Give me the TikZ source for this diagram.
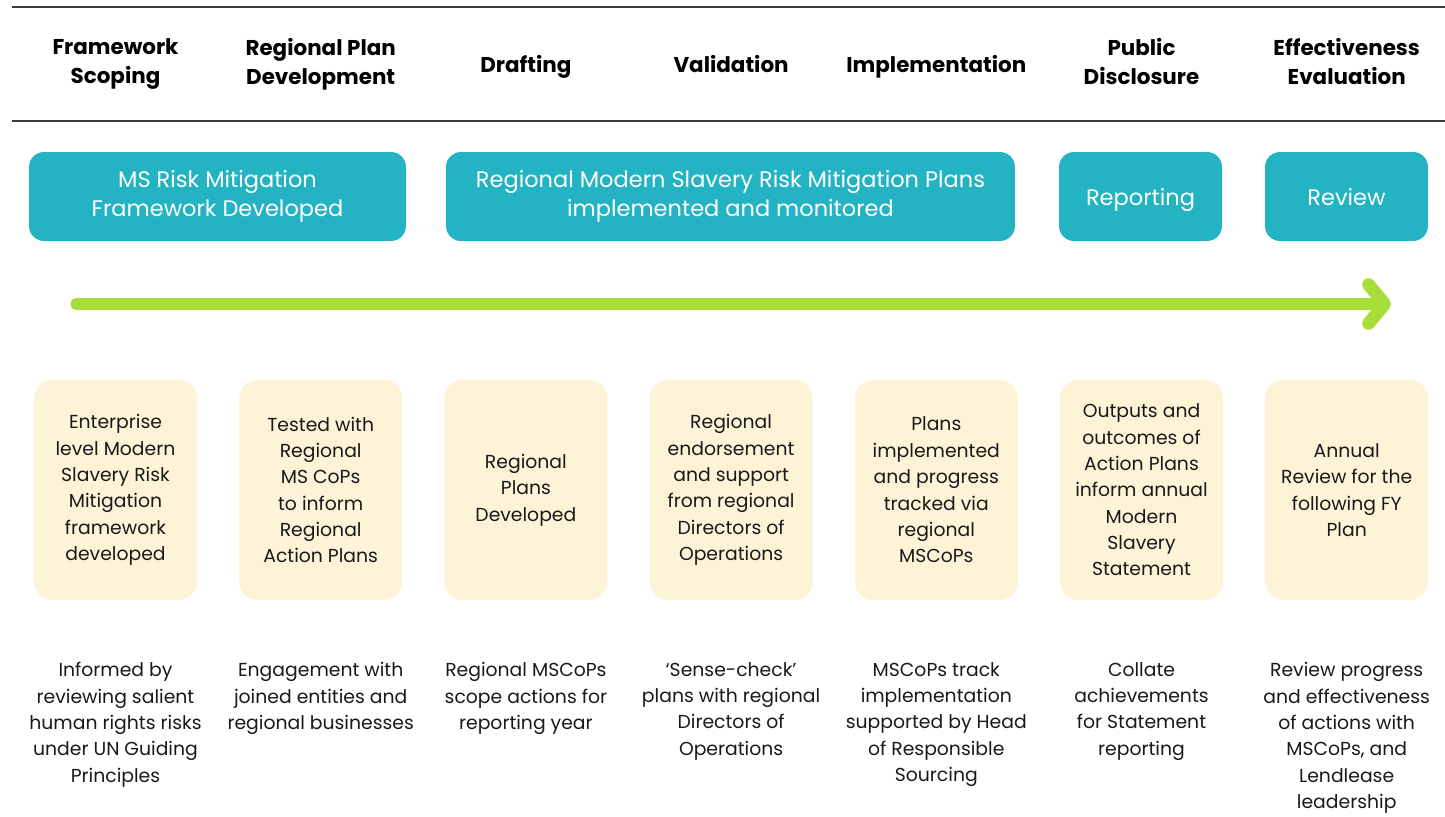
\documentclass[tikz,border=0pt]{standalone}
\usepackage{fontspec}
\setmainfont{Poppins}
\usepackage{tikz}
\usetikzlibrary{arrows.meta}
\definecolor{phaseteal}{HTML}{23B3C3}
\definecolor{stepcream}{HTML}{FDF4D8}
\definecolor{arrowgreen}{HTML}{A8DE3A}
\definecolor{rulegray}{HTML}{3A3A3A}
\newcommand\lowstrut{\rule[-0.2\baselineskip]{0pt}{\baselineskip}}
\tikzset{
  header/.style={
    font = \bfseries\fontsize{12.2}{16.6}\selectfont,
    align = center,
    text = black,
    execute at begin node = \lowstrut,
    execute at end node = \lowstrut
  },
  phase/.style={
    fill = phaseteal,
    rounded corners = 0.3cm,
    minimum height = 1.78cm,
    inner sep = 0pt,
    align = center,
    text = white,
    font = \fontsize{12.8}{16.6}\selectfont,
    execute at begin node = \lowstrut,
    execute at end node = \lowstrut
  },
  stepbox/.style={
    fill = stepcream,
    rounded corners = 0.36cm,
    minimum width = 3.26cm,
    minimum height = 4.4cm,
    inner sep = 0pt,
    align = center,
    text = black!90,
    font = \fontsize{10.7}{15}\selectfont
  },
  note/.style={
    anchor = north,
    inner sep = 0pt,
    align = center,
    text = black!90,
    font = \fontsize{10.7}{15}\selectfont
  },
  progress/.style={
    draw = arrowgreen,
    line width = 0.26cm,
    line cap = round,
    -{Straight Barb[length=9pt, width=22pt, round]}
  }
}
\begin{document}
\begin{tikzpicture}[x=0.02cm, y=0.02cm]
\newcommand\XCol{115.5}
\newcommand\XStep{205.2}
\newcommand\YHead{752}
\newcommand\YPhase{619.5}
\newcommand\YBox{326}
\newcommand\YNote{154}
\useasboundingbox (0,0) rectangle (1445,816);
% header rules
\coordinate (Rtl) at (12,809);
\coordinate (Rtr) at (1445,809);
\coordinate (Rbl) at (12,695);
\coordinate (Rbr) at (1445,695);
\path[draw=rulegray, line width=0.8pt] (Rtl) edge (Rtr)
                                      (Rbl) edge (Rbr);
% stage headers
\node[header] (H1) at (\XCol,\YHead) {Framework\\Scoping};
\node[header] (H2) at (\XCol+\XStep,\YHead) {Regional Plan\\Development};
\node[header] (H3) at (\XCol+\XStep*2,\YHead) {Drafting};
\node[header] (H4) at (\XCol+\XStep*3,\YHead) {Validation};
\node[header] (H5) at (\XCol+\XStep*4,\YHead) {Implementation};
\node[header] (H6) at (\XCol+\XStep*5,\YHead) {Public\\Disclosure};
\node[header] (H7) at (\XCol+\XStep*6,\YHead) {Effectiveness\\Evaluation};
% phases
\node[phase, minimum width=7.54cm] (T1) at (217.5,\YPhase) {MS Risk Mitigation\\Framework Developed};
\node[phase, minimum width=11.38cm] (T2) at (730.5,\YPhase) {Regional Modern Slavery Risk Mitigation Plans\\implemented and monitored};
\node[phase, minimum width=3.26cm] (T3) at (1140.5,\YPhase) {Reporting};
\node[phase, minimum width=3.26cm] (T4) at (1346.5,\YPhase) {Review};
% timeline
\coordinate (Astart) at (77,512);
\coordinate (Aend) at (1391,512);
\path (Astart) edge[progress] (Aend);
% step boxes
\node[stepbox] (B1) at (\XCol,\YBox) {Enterprise\\level Modern\\Slavery Risk\\Mitigation\\framework\\developed};
\node[stepbox] (B2) at (\XCol+\XStep,\YBox) {Tested with\\Regional\\MS CoPs\\to inform\\Regional\\Action Plans};
\node[stepbox] (B3) at (\XCol+\XStep*2,\YBox) {Regional\\Plans\\Developed};
\node[stepbox] (B4) at (\XCol+\XStep*3,\YBox) {Regional\\endorsement\\and support\\from regional\\Directors of\\Operations};
\node[stepbox] (B5) at (\XCol+\XStep*4,\YBox) {Plans\\implemented\\and progress\\tracked via\\regional\\MSCoPs};
\node[stepbox] (B6) at (\XCol+\XStep*5,\YBox) {Outputs and\\outcomes of\\Action Plans\\inform annual\\Modern\\Slavery\\Statement};
\node[stepbox] (B7) at (\XCol+\XStep*6,\YBox) {Annual\\Review for the\\following FY\\Plan};
% notes
\node[note] (N1) at (\XCol,\YNote) {Informed by\\reviewing salient\\human rights risks\\under UN Guiding\\Principles};
\node[note] (N2) at (\XCol+\XStep,\YNote) {Engagement with\\joined entities and\\regional businesses};
\node[note] (N3) at (\XCol+\XStep*2,\YNote) {Regional MSCoPs\\scope actions for\\reporting year};
\node[note] (N4) at (\XCol+\XStep*3,\YNote) {`Sense-check'\\plans with regional\\Directors of\\Operations};
\node[note] (N5) at (\XCol+\XStep*4,\YNote) {MSCoPs track\\implementation\\supported by Head\\of Responsible\\Sourcing};
\node[note] (N6) at (\XCol+\XStep*5,\YNote) {Collate\\achievements\\for Statement\\reporting};
\node[note] (N7) at (\XCol+\XStep*6,\YNote) {Review progress\\and effectiveness\\of actions with\\MSCoPs, and\\Lendlease\\leadership};
\end{tikzpicture}
\end{document}
